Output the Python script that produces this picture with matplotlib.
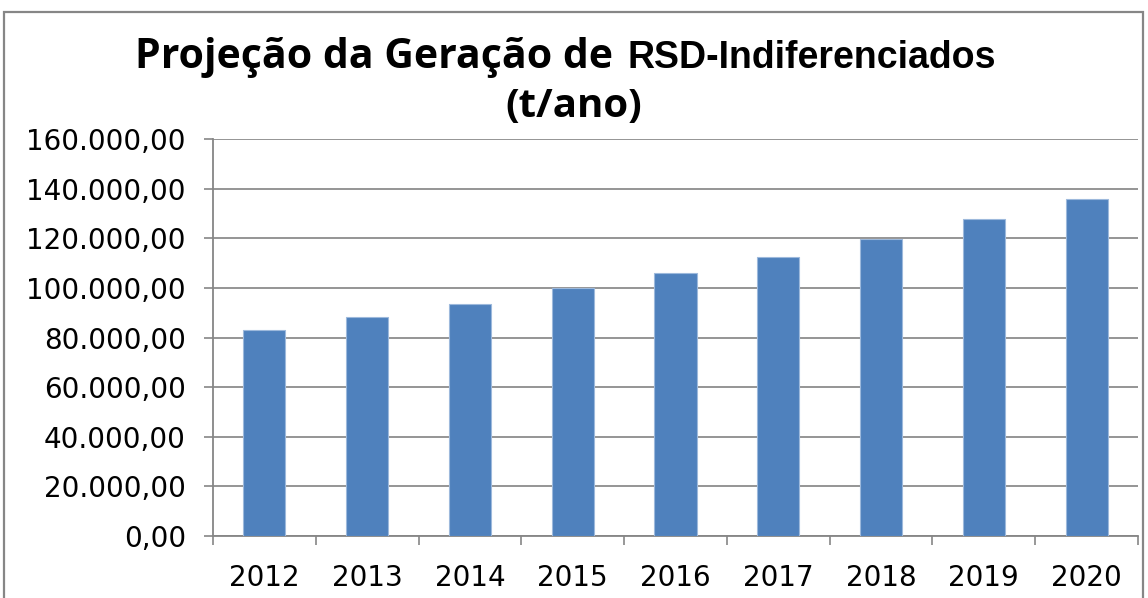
import numpy as np
import matplotlib.pyplot as plt
from matplotlib.patches import Rectangle
from matplotlib.ticker import FuncFormatter, FixedLocator

anos = ['2012', '2013', '2014', '2015', '2016', '2017', '2018', '2019', '2020']
geracao = [83000, 88200, 93700, 99800, 106100, 112600, 119800, 127600, 135800]
y_ticks = [0, 20000, 40000, 60000, 80000, 100000, 120000, 140000, 160000]


def fmt_br(v, pos=None):
    s = '{:,.2f}'.format(v)
    return s.replace(',', 'X').replace('.', ',').replace('X', '.')


fig = plt.figure(figsize=(11.48, 5.98), dpi=100)

# moldura do grafico (estilo Excel)
frame = Rectangle((4 / 1148, -0.05), 1139 / 1148, 1 - 12 / 598 + 0.05,
                  transform=fig.transFigure, fill=False, edgecolor='#868686',
                  linewidth=1.6, zorder=0)
fig.patches.append(frame)

ax = fig.add_axes([213 / 1148, 1 - 536 / 598, 925 / 1148, 397 / 598])

x = np.arange(len(anos))
ax.bar(x, geracao, width=0.41, color='#4F81BD', edgecolor='#9DB9DC',
       linewidth=0.8, zorder=3)

ax.set_xlim(-0.5, len(anos) - 0.5)
ax.set_ylim(0, 160000)
ax.set_yticks(y_ticks)
ax.yaxis.set_major_formatter(FuncFormatter(fmt_br))
ax.grid(axis='y', color='#8C8C8C', linewidth=1.3, zorder=0)

ax.set_xticks(x)
ax.set_xticklabels(anos)
ax.xaxis.set_minor_locator(FixedLocator(np.arange(-0.5, len(anos), 1.0)))

for sp in ['top', 'right']:
    ax.spines[sp].set_visible(False)
for sp in ['left', 'bottom']:
    ax.spines[sp].set_color('#868686')
    ax.spines[sp].set_linewidth(1.3)

ax.tick_params(axis='y', length=6.5, width=1.2, color='#868686', pad=13,
               labelsize=20, labelcolor='#000000')
ax.tick_params(axis='x', which='major', length=0, pad=20, labelsize=20)
ax.tick_params(axis='x', which='minor', length=6.5, width=1.2, color='#868686')
for lab in ax.get_xticklabels() + ax.get_yticklabels():
    lab.set_family('DejaVu Sans')

# titulo em duas partes (fontes diferentes como no original)
fig.text(624 / 1148, 1 - 68 / 598, 'Projeção da Geração de ', ha='right',
         va='baseline', fontsize=29.5, fontweight='bold', family='Open Sans')
fig.text(628 / 1148, 1 - 68 / 598, 'RSD-Indiferenciados', ha='left',
         va='baseline', fontsize=27, fontweight='bold', family='Liberation Sans')
fig.text(574 / 1148, 1 - 117 / 598, '(t/ano)', ha='center', va='baseline',
         fontsize=29, fontweight='bold', family='Open Sans')

plt.savefig('out.png', dpi=100)
